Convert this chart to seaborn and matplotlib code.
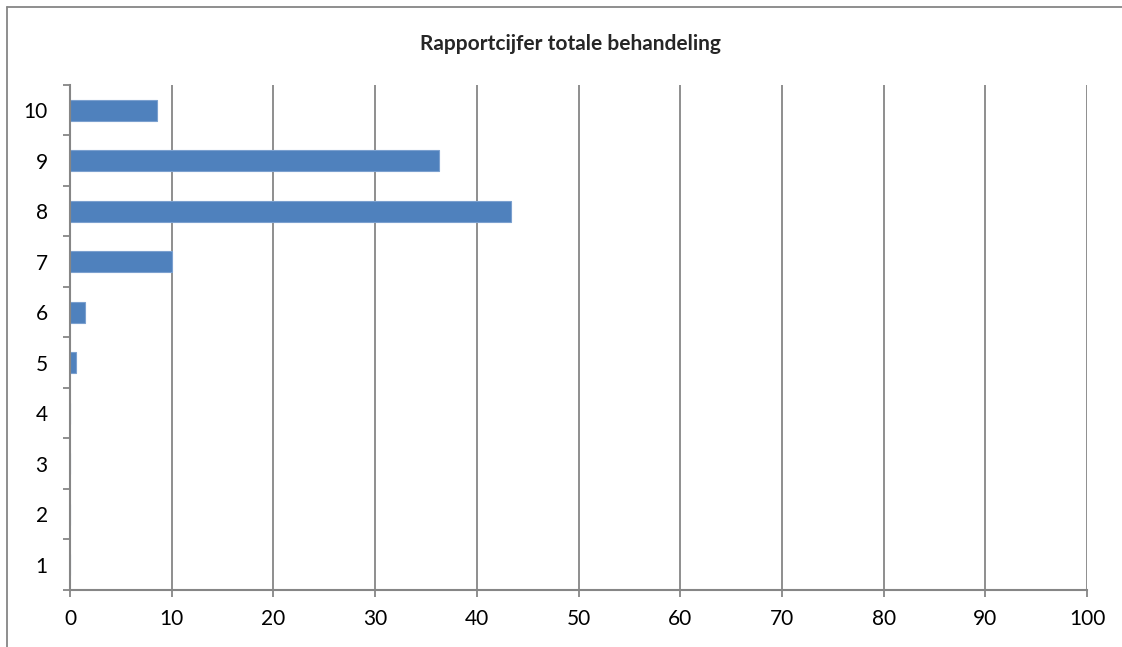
import numpy as np
import pandas as pd
import matplotlib
matplotlib.use("Agg")
import matplotlib.pyplot as plt
from matplotlib.lines import Line2D
import seaborn as sns

# data
cijfers = ["10", "9", "8", "7", "6", "5", "4", "3", "2", "1"]
percentages = [8.6, 36.3, 43.4, 10.0, 1.5, 0.6, 0, 0, 0, 0]
title = "Rapportcijfer totale behandeling"

sns.set_theme(style="white")
plt.rcParams['font.family'] = ['Lato', 'DejaVu Sans']

grid_col = "#868686"
bar_col = "#4F81BD"

df = pd.DataFrame({"cijfer": cijfers, "pct": percentages})

fig = plt.figure(figsize=(11.22, 6.47), dpi=100)
ax = fig.add_axes([70 / 1122, 1 - 590 / 647, (1087 - 70) / 1122, (590 - 85) / 647])

sns.barplot(data=df, x="pct", y="cijfer", order=cijfers, orient="h",
            color=bar_col, saturation=1, width=0.41, ax=ax,
            edgecolor="#7BA0CF", linewidth=0.8)

ax.set_xlim(0, 100)
ax.set_ylim(len(cijfers) - 0.5, -0.5)
ax.set_xticks(np.arange(0, 101, 10))
ax.set_xlabel("")
ax.set_ylabel("")
ax.set_title("")

# vertical gridlines
ax.grid(False)
for xv in np.arange(10, 101, 10):
    ax.axvline(xv, color=grid_col, lw=1.3, zorder=0)

for side in ["top", "right"]:
    ax.spines[side].set_visible(False)
for side in ["left", "bottom"]:
    ax.spines[side].set_color(grid_col)
    ax.spines[side].set_linewidth(1.5)

ax.tick_params(axis="x", direction="out", length=5, width=1.3, color=grid_col,
               labelsize=15, pad=9, bottom=True)
ax.tick_params(axis="y", which="major", length=0, labelsize=15, pad=16)
ax.set_yticks(np.arange(-0.5, len(cijfers), 1), minor=True)
ax.tick_params(axis="y", which="minor", direction="out", length=5, width=1.3,
               color=grid_col, left=True)
for lbl in ax.get_xticklabels() + ax.get_yticklabels():
    lbl.set_color("black")

fig.text(570 / 1122, 1 - 44 / 647, title, ha="center", va="center",
         fontsize=15, fontweight="bold")

# chart border (left and top visible)
fig.add_artist(Line2D([6.5 / 1122, 6.5 / 1122], [0, 1 - 6.5 / 647],
                      transform=fig.transFigure, color=grid_col, lw=1.3))
fig.add_artist(Line2D([6.5 / 1122, 1], [1 - 6.5 / 647, 1 - 6.5 / 647],
                      transform=fig.transFigure, color=grid_col, lw=1.3))

fig.savefig("out.png", dpi=100)
